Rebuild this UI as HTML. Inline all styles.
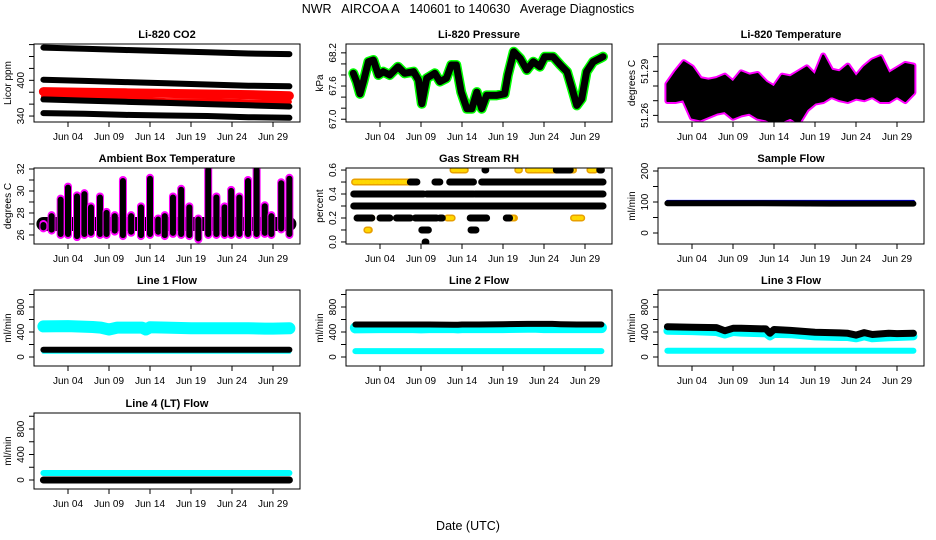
<!DOCTYPE html>
<html><head><meta charset="utf-8">
<style>
html,body{margin:0;padding:0;background:#fff;}
svg{display:block;font-family:"Liberation Sans",Arial,sans-serif;}
</style></head>
<body>
<svg id="chart" width="936" height="540" viewBox="0 0 936 540">
<text x="468" y="13" text-anchor="middle" font-size="12.5" style="white-space:pre" xml:space="preserve">NWR   AIRCOA A   140601 to 140630   Average Diagnostics</text>
<text x="468" y="530" text-anchor="middle" font-size="12.5">Date (UTC)</text>
</svg>
<script>
// ---- x ticks ----
const xTickDays = [3, 8, 13, 18, 23, 28];
const xTickLabels = ["Jun 04", "Jun 09", "Jun 14", "Jun 19", "Jun 24", "Jun 29"];

// ---- CO2 ----
const co2Days = [0, 5, 10, 15, 20, 25, 30];
const co2Band1 = [455, 453, 451, 449, 447, 445, 444];
const co2Band2 = [401, 399, 397, 395, 393, 391, 390];
const co2Red = [381, 380, 379, 378, 377, 376, 374];
const co2Red2 = [372, 370, 369, 366, 366, 364, 364];
const co2Band3 = [368, 366, 364, 362, 360, 358, 356];
const co2Band4 = [345, 344, 342, 341, 340, 338, 337];

// ---- Pressure ----
const presDays = [-0.25,0.15,0.56,0.97,1.58,2.19,2.8,3.4,4.2,5.2,6.0,7.1,7.7,8.1,8.7,9.7,10.3,11.1,11.7,12.3,12.9,13.6,14.2,14.8,15.4,16.0,17.2,18.2,18.6,19.3,20.1,20.9,21.7,22.5,23.1,24.1,25.0,25.8,26.4,27.0,27.6,28.2,29.0,29.8,30.2];
const presVals = [67.83,67.68,67.46,67.68,68.04,68.07,67.80,67.86,67.80,67.95,67.83,67.86,67.71,67.28,67.74,67.83,67.68,67.74,67.98,67.98,67.49,67.19,67.19,67.49,67.19,67.43,67.43,67.46,67.80,68.22,68.10,67.89,68.04,67.95,68.13,68.13,67.98,67.86,67.56,67.25,67.37,67.86,68.04,68.10,68.13];

// ---- Li-820 temperature ----
const tempDays = [0,1,2,3,4,5,6,7,8,9,10,11,12,13,14,15,16,17,18,19,20,21,22,23,24,25,26,27,28,29,30];
const tempHi = [51.2813,51.2893,51.2962,51.2927,51.2847,51.2836,51.2847,51.2870,51.2824,51.2893,51.2870,51.2882,51.2824,51.2790,51.2870,51.2859,51.2893,51.2927,51.2870,51.3008,51.2905,51.2893,51.2939,51.2859,51.2927,51.2973,51.2996,51.2882,51.2916,51.2950,51.2939];
const tempLo = [51.2698,51.2698,51.2710,51.2584,51.2573,51.2595,51.2618,51.2630,51.2584,51.2607,51.2618,51.2584,51.2573,51.2550,51.2561,51.2584,51.2550,51.2641,51.2687,51.2698,51.2733,51.2710,51.2698,51.2721,51.2710,51.2733,51.2698,51.2698,51.2733,51.2698,51.2756];

// ---- Ambient box temperature ----
const ambDays = [0,1,2.1,3,4.1,5,5.8,6.9,7.7,8.7,9.7,10.7,11.9,13,14,14.8,15.8,16.8,17.8,18.9,20.1,21.1,22.1,22.9,23.9,24.95,26,27,27.8,29,30];
const ambHi = [27.0,27.8,29.3,30.4,29.6,29.8,28.6,29.5,28.1,27.8,31.0,27.8,28.6,31.2,27.5,27.8,29.5,30.2,28.6,27.5,32.0,29.5,28.6,30.1,29.5,31.0,32.0,28.7,27.8,30.8,31.2];
const ambLo = [26.6,26.4,26.0,26.0,25.8,26.0,26.1,26.0,26.0,26.3,25.9,26.2,25.9,26.0,26.2,25.9,26.1,26.0,25.9,25.6,26.0,26.0,26.0,26.0,26.0,26.0,26.0,26.1,26.0,26.5,26.0];

// ---- Gas stream RH (segments) ----
const rhBlackLevel = [0.5,0.5,0.5,0.5,0.4,0.4,0.4,0.3,0.2,0.2,0.2,0.2,0.2,0.2,0.2,0.1,0.1,0.0,0.6,0.6,0.6];
const rhBlackStart = [6.7,9.7,11.5,15.4,-0.2,8.7,14.6,-0.2,0.2,3.0,5.0,7.3,10.3,14.0,18.4,8.1,14.1,8.5,15.8,24.5,29.8];
const rhBlackEnd = [7.5,10.3,14.4,30.2,8.3,14.4,30.2,30.2,2.0,4.2,6.7,9.9,10.6,16.0,18.8,8.9,14.7,8.6,15.9,26.2,30.0];
const rhYellowLevel = [0.6,0.6,0.6,0.6,0.6,0.5,0.3,0.3,0.3,0.2,0.2,0.2,0.2,0.1];
const rhYellowStart = [11.9,19.8,21.1,26.3,28.6,-0.1,19.9,22.8,24.5,1.2,11.2,19.0,26.6,1.4];
const rhYellowEnd = [13.4,20.0,24.3,26.6,29.2,6.7,21.0,24.0,26.0,2.0,11.8,19.4,27.6,1.7];

// ---- Sample flow ----
const sfDays = [0, 10, 20, 30];
const sfBlack = [96, 96, 95, 95];
const sfBlue = [102, 102, 102, 102];

// ---- Line flows ----
const flowDays = [0,3,6,7,8,9,12,12.5,13,15,18,21,22,23,24,25,27,28,30];
const l1Cyan = [490,495,480,470,440,470,470,440,475,470,460,460,460,460,460,460,455,455,460];
const l1Black = [115,115,115,115,115,115,115,115,115,115,115,115,115,115,115,115,115,115,115];
const l1CyanLow = [85,85,85,85,85,85,85,85,85,85,85,85,85,85,85,85,85,85,85];
const l2Cyan = [465,470,470,470,465,470,470,465,470,470,470,475,475,470,470,470,470,470,470];
const l2Black = [520,520,520,520,520,520,515,515,520,520,525,530,530,530,530,525,520,520,520];
const l2CyanLow = [95,95,95,95,95,95,95,95,95,95,95,95,95,95,95,95,95,95,95];
const l3Black = [485,475,470,420,460,460,450,380,440,425,395,385,380,350,390,360,380,375,380];
const l3Cyan = [420,415,400,360,400,390,380,330,370,365,330,320,320,300,330,300,315,320,330];
const l3CyanLow = [100,100,100,100,100,100,100,100,100,100,100,100,100,100,100,100,100,100,100];
const l4Cyan = [110,110,110,110,110,110,110,110,110,110,110,110,110,110,110,110,110,110,110];
const l4Black = [0,0,0,0,0,0,0,0,0,0,0,0,0,0,0,0,0,0,0];

const svg = document.getElementById('chart');
const NS = 'http://www.w3.org/2000/svg';
const colLeft = [34, 346, 658];
const rowTop = [44, 168, 290, 413];
const rowH = [78, 76, 76, 76];
const PW = 266;

function mk(tag, attrs, name, parent) {
  const el = document.createElementNS(NS, tag);
  for (const k in attrs) el.setAttribute(k, attrs[k]);
  
  
  (parent || svg).appendChild(el);
  return el;
}

function panel(col, row, key, title, ylab, ymin, ymax, yTicks, yLabels) {
  const left = colLeft[col], top = rowTop[row], H = rowH[row];
  const g = mk('g', {}, key + '-panel');
  const x = d => left + 9.4 + d * 8.2;
  const y = v => top + H - (v - ymin) / (ymax - ymin) * H;
  mk('text', {x: left + PW / 2, y: top - 6, 'text-anchor': 'middle', 'font-size': 11, 'font-weight': 'bold'}, key + '-title', g).textContent = title;
  const bottom = top + H;
  xTickDays.forEach((d, i) => {
    mk('line', {x1: x(d), x2: x(d), y1: bottom, y2: bottom + 5, stroke: '#000'}, key + '-x-tick', g);
    mk('text', {x: x(d), y: bottom + 18, 'text-anchor': 'middle', 'font-size': 10}, key + '-x-tick-label', g).textContent = xTickLabels[i];
  });
  mk('line', {x1: left, x2: left, y1: y(yTicks[0]), y2: y(yTicks[yTicks.length - 1]), stroke: '#000'}, key + '-y-axis', g);
  yTicks.forEach((v, i) => {
    mk('line', {x1: left - 5, x2: left, y1: y(v), y2: y(v), stroke: '#000'}, key + '-y-tick', g);
    if (yLabels[i] !== '') {
      const tx = left - 10, ty = y(v);
      mk('text', {x: tx, y: ty, 'text-anchor': 'middle', 'font-size': 10, transform: `rotate(-90 ${tx} ${ty})`}, key + '-y-tick-label', g).textContent = yLabels[i];
    }
  });
  const lx = left - 23, ly = top + H / 2;
  mk('text', {x: lx, y: ly, 'text-anchor': 'middle', 'font-size': 10, transform: `rotate(-90 ${lx} ${ly})`}, key + '-y-axis-title', g).textContent = ylab;
  const data = mk('g', {}, key + '-series', g);
  const clip = mk('clipPath', {id: 'clip-' + key}, key + '-clip', g);
  mk('rect', {x: left, y: top, width: PW, height: H}, key + '-clip-rect', clip);
  data.setAttribute('clip-path', `url(#clip-${key})`);
  mk('rect', {x: left, y: top, width: PW, height: H, fill: 'none', stroke: '#000'}, key + '-plot-box', g);
  return {x, y, g: data};
}

function line(p, days, vals, color, w, name) {
  const pts = days.map((d, i) => p.x(d).toFixed(1) + ',' + p.y(vals[i]).toFixed(1)).join(' ');
  return mk('polyline', {points: pts, fill: 'none', stroke: color, 'stroke-width': w, 'stroke-linecap': 'round', 'stroke-linejoin': 'round'}, name, p.g);
}
function envelope(p, days, hi, lo, color, pad, name) {
  const up = days.map((d, i) => p.x(d).toFixed(1) + ',' + p.y(hi[i]).toFixed(1));
  const dn = days.map((d, i) => p.x(d).toFixed(1) + ',' + p.y(lo[i]).toFixed(1)).reverse();
  return mk('polygon', {points: up.concat(dn).join(' '), fill: color, stroke: color, 'stroke-width': pad, 'stroke-linejoin': 'round'}, name, p.g);
}

let p = panel(0, 0, 'co2', 'Li-820 CO2', 'Licor ppm', 330, 461, [340,360,380,400,420,440,460], ['340','','','400','','','']);
line(p, co2Days, co2Band1, '#000', 6, 'co2-band-1');
line(p, co2Days, co2Band2, '#000', 6, 'co2-band-2');
line(p, co2Days, co2Red2, '#f00', 5, 'co2-red-band-low');
line(p, co2Days, co2Band3, '#000', 6, 'co2-band-3');
line(p, co2Days, co2Red, '#f00', 9, 'co2-red-band');
line(p, co2Days, co2Band4, '#000', 6, 'co2-band-4');

p = panel(1, 0, 'pressure', 'Li-820 Pressure', 'kPa', 66.95, 68.36, [67.0,67.2,67.4,67.6,67.8,68.0,68.2], ['67.0','','','67.6','','','68.2']);
line(p, presDays, presVals, '#00ff00', 10, 'pressure-outline');
line(p, presDays, presVals, '#000', 7, 'pressure-series');

p = panel(2, 0, 'li820-temp', 'Li-820 Temperature', 'degrees C', 51.2555, 51.3086, [51.26,51.27,51.28,51.29,51.30], ['51.26','','','51.29','']);
envelope(p, tempDays, tempHi, tempLo, '#ff00ff', 6, 'li820-temp-magenta');
envelope(p, tempDays, tempHi, tempLo, '#000', 2, 'li820-temp-black');

p = panel(0, 1, 'ambient', 'Ambient Box Temperature', 'degrees C', 25.18, 32.09, [26,27,28,29,30,31,32], ['26','','28','','30','','32']);
const ambBase = ambDays.map(() => 27.0);
line(p, ambDays, ambBase, '#000', 14, 'ambient-base-band');
ambDays.forEach((d, i) => {
  mk('line', {x1: p.x(d), x2: p.x(d), y1: p.y(ambHi[i]), y2: p.y(ambLo[i]), stroke: '#ff00ff', 'stroke-width': 8, 'stroke-linecap': 'round'}, 'ambient-day-outline', p.g);
  mk('line', {x1: p.x(d), x2: p.x(d), y1: p.y(ambHi[i]) + 1, y2: p.y(ambLo[i]) - 1, stroke: '#000', 'stroke-width': 6, 'stroke-linecap': 'round'}, 'ambient-day-range', p.g);
});

p = panel(1, 1, 'rh', 'Gas Stream RH', 'percent', -0.017, 0.617, [0,0.1,0.2,0.3,0.4,0.5,0.6], ['0.0','','0.2','','0.4','','0.6']);
rhYellowLevel.forEach((v, i) => {
  mk('line', {x1: p.x(rhYellowStart[i]), x2: p.x(rhYellowEnd[i]), y1: p.y(v), y2: p.y(v), stroke: '#e8a000', 'stroke-width': 7, 'stroke-linecap': 'round'}, 'rh-yellow-outline', p.g);
  mk('line', {x1: p.x(rhYellowStart[i]), x2: p.x(rhYellowEnd[i]), y1: p.y(v), y2: p.y(v), stroke: '#ffd700', 'stroke-width': 4, 'stroke-linecap': 'round', 'stroke-dasharray': '2 2'}, 'rh-yellow-segment', p.g);
});
rhBlackLevel.forEach((v, i) => {
  mk('line', {x1: p.x(rhBlackStart[i]), x2: p.x(rhBlackEnd[i]), y1: p.y(v), y2: p.y(v), stroke: '#000', 'stroke-width': 7, 'stroke-linecap': 'round'}, 'rh-black-segment', p.g);
});

p = panel(2, 1, 'sample-flow', 'Sample Flow', 'ml/min', -35.5, 209.7, [0,50,100,150,200], ['0','','100','','200']);
line(p, sfDays, sfBlue, '#0000ff', 3, 'sample-flow-blue');
line(p, sfDays, sfBlack, '#000', 6, 'sample-flow-black');

const flowTicks = [0,200,400,600,800,1000];
const flowLabels = ['0','','400','','800',''];
p = panel(0, 2, 'line1', 'Line 1 Flow', 'ml/min', -144, 1072, flowTicks, flowLabels);
line(p, flowDays, l1Cyan, '#00ffff', 12, 'line1-cyan-band');
line(p, flowDays, l1CyanLow, '#00ffff', 4, 'line1-cyan-low');
line(p, flowDays, l1Black, '#000', 6, 'line1-black');
p = panel(1, 2, 'line2', 'Line 2 Flow', 'ml/min', -144, 1072, flowTicks, flowLabels);
line(p, flowDays, l2Cyan, '#00ffff', 11, 'line2-cyan-band');
line(p, flowDays, l2Black, '#000', 6, 'line2-black');
line(p, flowDays, l2CyanLow, '#00ffff', 6, 'line2-cyan-low');
p = panel(2, 2, 'line3', 'Line 3 Flow', 'ml/min', -144, 1072, flowTicks, flowLabels);
line(p, flowDays, l3Cyan, '#00ffff', 8, 'line3-cyan-band');
line(p, flowDays, l3Black, '#000', 7, 'line3-black');
line(p, flowDays, l3CyanLow, '#00ffff', 6, 'line3-cyan-low');
p = panel(0, 3, 'line4', 'Line 4 (LT) Flow', 'ml/min', -141, 1051, flowTicks, flowLabels);
line(p, flowDays, l4Cyan, '#00ffff', 6, 'line4-cyan');
line(p, flowDays, l4Black, '#000', 7, 'line4-black');
</script>
</body></html>
